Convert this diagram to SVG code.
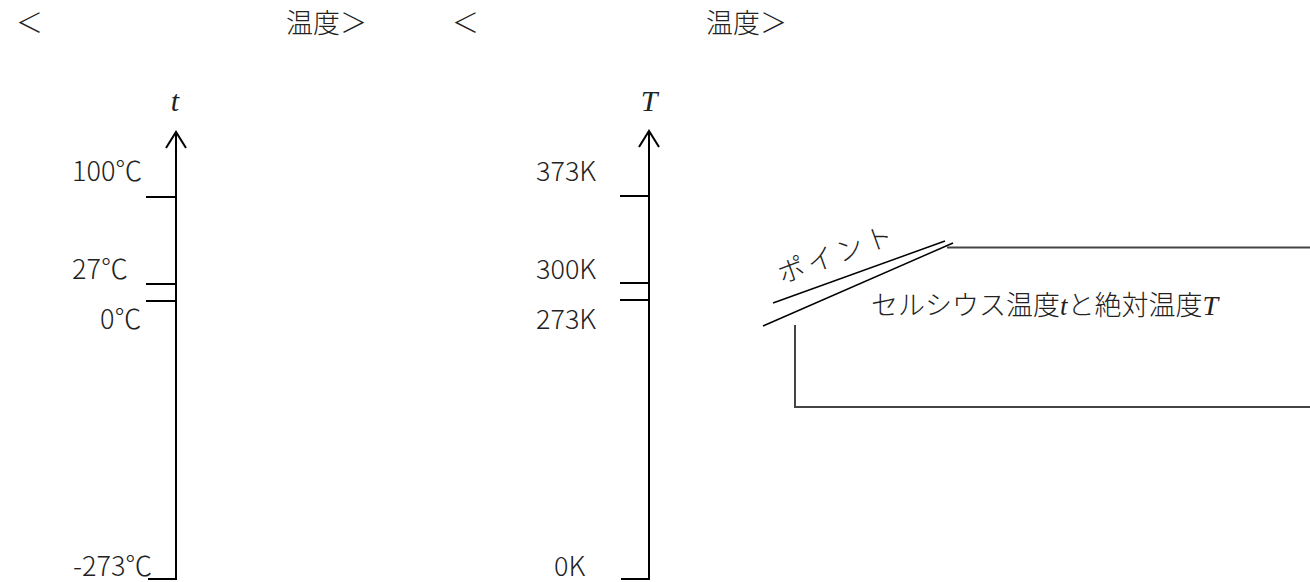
<svg xmlns="http://www.w3.org/2000/svg" width="1310" height="582" viewBox="0 0 1310 582">
<style>
.jp{font-family:"Noto Sans CJK JP","Noto Sans",sans-serif;font-weight:300;fill:#222}
.hd{font-size:27px}
.lb{font-size:27px}
.mi{font-family:"Liberation Serif","DejaVu Serif",serif;font-style:italic;font-weight:normal;fill:#222}
.ax{stroke:#000;stroke-width:2;fill:none}
.bx{stroke:#444;stroke-width:2;fill:none}
.dg{stroke:#000;stroke-width:1.5;fill:none}
</style>
<rect width="1310" height="582" fill="#fff"/>
<g id="header-left">
<text class="jp hd" x="16" y="33">＜</text>
<text class="jp hd" x="286" y="33">温度＞</text>
</g>
<g id="header-right">
<text class="jp hd" x="452" y="33">＜</text>
<text class="jp hd" x="706" y="33">温度＞</text>
</g>
<g id="axis-celsius">
<text class="mi" x="175" y="111" font-size="30" text-anchor="middle">t</text>
<line class="ax" x1="176" y1="132" x2="176" y2="580"/>
<polyline class="ax" points="166,148 176,132 186,148"/>
<line class="ax" x1="146" y1="197" x2="176" y2="197"/>
<line class="ax" x1="146" y1="284" x2="176" y2="284"/>
<line class="ax" x1="146" y1="301" x2="176" y2="301"/>
<line class="ax" x1="148" y1="579" x2="177" y2="579"/>
<text class="jp lb" x="72" y="181">100℃</text>
<text class="jp lb" x="72" y="279">27℃</text>
<text class="jp lb" x="100" y="329">0℃</text>
<text class="jp lb" x="73" y="576">-273℃</text>
</g>
<g id="axis-kelvin">
<text class="mi" x="649" y="111" font-size="30" text-anchor="middle">T</text>
<line class="ax" x1="649" y1="131" x2="649" y2="580"/>
<polyline class="ax" points="639,147 649,131 659,147"/>
<line class="ax" x1="620" y1="196" x2="649" y2="196"/>
<line class="ax" x1="620" y1="283" x2="649" y2="283"/>
<line class="ax" x1="620" y1="300" x2="649" y2="300"/>
<line class="ax" x1="621" y1="579" x2="650" y2="579"/>
<text class="jp lb" x="536" y="181">373K</text>
<text class="jp lb" x="536" y="279">300K</text>
<text class="jp lb" x="536" y="329">273K</text>
<text class="jp lb" x="554" y="576">0K</text>
</g>
<g id="point-box">
<line class="dg" x1="773" y1="303" x2="945" y2="241"/>
<line class="dg" x1="763" y1="326" x2="953" y2="243"/>
<polyline class="bx" points="947,247.5 1310,247.5"/>
<polyline class="bx" points="795,325 795,407 1310,407"/>
<text class="jp" font-size="27" letter-spacing="4" transform="translate(782,284) rotate(-20)">ポイント</text>
<text class="jp" font-size="27" x="871" y="315">セルシウス温度<tspan class="mi" font-size="27">t</tspan>と絶対温度<tspan class="mi" font-size="28">T</tspan></text>
</g>
</svg>
